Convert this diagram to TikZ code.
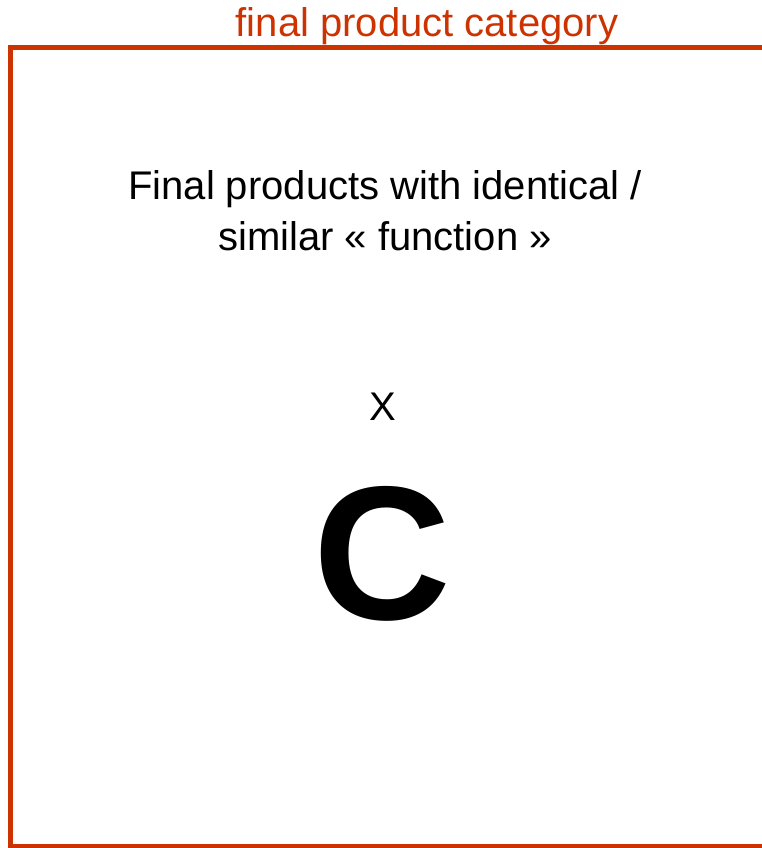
\documentclass[tikz,border=0pt]{standalone}
\usepackage{fontspec}
\setmainfont{Liberation Sans}
\definecolor{catred}{RGB}{204,51,0}
\begin{document}
\begin{tikzpicture}[x=0.75pt,y=-0.75pt,
  txt/.style={inner sep=0pt,anchor=base,font=\fontsize{30}{36}\selectfont},
  frame/.style={draw=catred,line width=3.75pt}]
\useasboundingbox (0,0) rectangle (762,848);
\coordinate (tr) at (770,47.5);
\coordinate (tl) at (10,47.5);
\coordinate (bl) at (10,846);
\coordinate (br) at (770,846);
\draw[frame] (tr) -- (tl) -- (bl) -- (br);
\node[txt,text=catred] (title) at (427,37) {final product category};
\node[txt] (line1) at (385,200) {Final products with identical /};
\node[txt] (line2) at (385,251) {similar « function »};
\node[txt] (x) at (383,420) {X};
\node[txt,font=\fontsize{143}{150}\selectfont\bfseries] (c) at (382,619) {C};
\end{tikzpicture}
\end{document}
